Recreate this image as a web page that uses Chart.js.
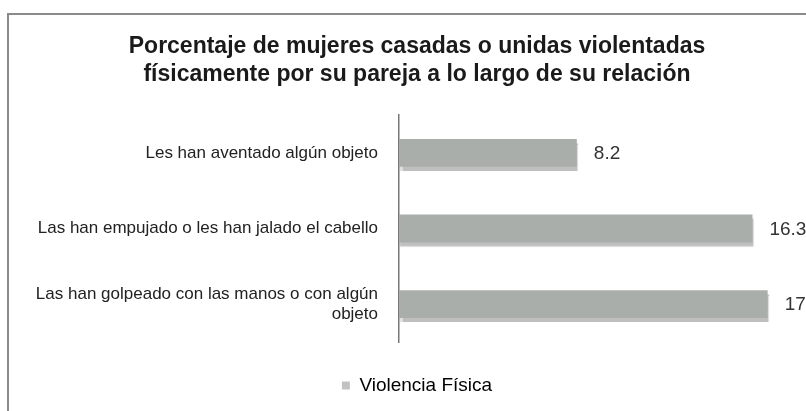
<!DOCTYPE html>
<html>
<head>
<meta charset="utf-8">
<script src="https://cdn.jsdelivr.net/npm/chart.js@4"></script>
<style>
  html, body { margin: 0; padding: 0; background: #fff; }
  #wrap { position: relative; width: 806px; height: 411px; }
</style>
</head>
<body>
<div id="wrap"><canvas id="chart"></canvas></div>
<script>
const categories = [
  'Les han aventado algún objeto',
  'Las han empujado o les han jalado el cabello',
  ['Las han golpeado con las manos o con algún', 'objeto'],
];
const values = [8.2, 16.3, 17];
const seriesName = 'Violencia Física';
const titleLines = [
  'Porcentaje de mujeres casadas o unidas violentadas',
  'físicamente por su pareja a lo largo de su relación',
];

const FONT = "'Liberation Sans', Arial, sans-serif";
const PAD_LEFT = 36;

// scanned-page frame (left and top rule)
const framePlugin = {
  id: 'frame',
  beforeDraw(chart) {
    const { ctx } = chart;
    ctx.save();
    ctx.strokeStyle = '#8a8a8a';
    ctx.lineWidth = 2;
    ctx.beginPath();
    ctx.moveTo(8, 411);
    ctx.lineTo(8, 14);
    ctx.lineTo(806, 14);
    ctx.stroke();
    ctx.restore();
  },
};

// soft drop shadow under the bars
const shadowPlugin = {
  id: 'barShadow',
  beforeDatasetDraw(chart) {
    const { ctx } = chart;
    ctx.save();
    ctx.shadowColor = 'rgba(0,0,0,0.25)';
    ctx.shadowOffsetY = 4;
    ctx.shadowOffsetX = 1;
    ctx.shadowBlur = 1;
  },
  afterDatasetDraw(chart) {
    chart.ctx.restore();
  },
};

// value labels at the end of each bar
const valueLabels = {
  id: 'valueLabels',
  afterDatasetsDraw(chart) {
    const { ctx } = chart;
    const meta = chart.getDatasetMeta(0);
    ctx.save();
    ctx.font = `19px ${FONT}`;
    ctx.fillStyle = '#333';
    ctx.textAlign = 'left';
    ctx.textBaseline = 'middle';
    meta.data.forEach((bar, i) => {
      ctx.fillText(`${values[i]}`, bar.x + 17, bar.y + 1);
    });
    ctx.restore();
  },
};

new Chart(document.getElementById('chart'), {
  type: 'bar',
  data: {
    labels: categories,
    datasets: [{
      label: seriesName,
      data: values,
      backgroundColor: '#a9aeab',
      borderWidth: 0,
      barPercentage: 0.8,
      categoryPercentage: 0.46,
    }],
  },
  options: {
    indexAxis: 'y',
    responsive: true,
    maintainAspectRatio: false,
    animation: false,
    layout: { padding: { left: PAD_LEFT, right: 8, top: 0, bottom: 6 } },
    scales: {
      x: {
        display: true,
        min: 0,
        max: 18.4,
        afterFit(scale) { scale.height = 24; },
        ticks: { display: false },
        grid: { display: false },
        border: { display: false },
      },
      y: {
        afterFit(scale) { scale.width = 399 - PAD_LEFT; },
        grid: { display: false, drawTicks: false },
        border: { display: true, color: '#777', width: 1.5 },
        ticks: {
          padding: 21,
          color: '#222',
          font: { family: FONT, size: 17, lineHeight: 1.2 },
        },
      },
    },
    plugins: {
      title: {
        display: true,
        text: titleLines,
        color: '#1a1a1a',
        font: { family: FONT, size: 23, weight: 'bold', lineHeight: 28 / 23 },
        padding: { top: 33, bottom: 26 },
      },
      legend: {
        position: 'bottom',
        labels: {
          color: '#222',
          boxWidth: 8,
          boxHeight: 8,
          padding: 10,
          font: { family: FONT, size: 19 },
          generateLabels() {
            return [{
              text: seriesName,
              fillStyle: '#c0c2c1',
              strokeStyle: '#c0c2c1',
              lineWidth: 0,
              datasetIndex: 0,
            }];
          },
        },
      },
      tooltip: { enabled: false },
    },
  },
  plugins: [framePlugin, shadowPlugin, valueLabels],
});
</script>
</body>
</html>
